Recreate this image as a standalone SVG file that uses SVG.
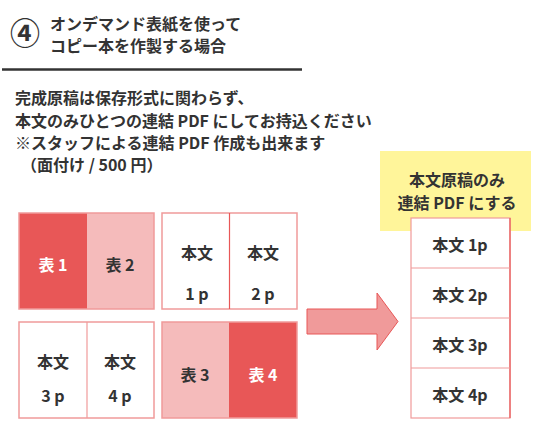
<svg xmlns="http://www.w3.org/2000/svg" width="535" height="430" viewBox="0 0 535 430">
<style>
text{font-family:"Noto Sans CJK JP","Noto Sans",sans-serif;font-weight:bold;fill:#333}
.t{font-size:16px}
.b{font-size:16px}
.c{text-anchor:middle;font-size:16px}
.w{fill:#fff}
.red{fill:#E85757}
.pink{fill:#F5BBBB}
.bd{fill:none;stroke:#F09A9A;stroke-width:1.5}
.dv{stroke:#E85757;stroke-width:1.2}
.dvp{stroke:#F09A9A;stroke-width:1.2}
</style>
<rect width="535" height="430" fill="#fff"/>
<g id="title">
<text x="25" y="44" style="font-size:30px;text-anchor:middle">④</text>
<text class="t" x="50" y="30">オンデマンド表紙を使って</text>
<text class="t" x="50" y="52">コピー本を作製する場合</text>
<line x1="2" y1="69.5" x2="302" y2="69.5" stroke="#333" stroke-width="2.5"/>
</g>
<g id="notes">
<text class="b" x="15" y="104">完成原稿は保存形式に関わらず、</text>
<text class="b" x="15" y="127">本文のみひとつの連結 PDF にしてお持込ください</text>
<text class="b" x="15" y="149">※スタッフによる連結 PDF 作成も出来ます</text>
<text class="b" x="21" y="171">（面付け / 500 円）</text>
</g>
<g id="cover12">
<rect class="red" x="19" y="213" width="68" height="96"/>
<rect class="pink" x="87" y="213" width="67" height="96"/>
<rect class="bd" x="19" y="213" width="135" height="96"/>
<text class="c w" x="53" y="271">表 1</text>
<text class="c" x="120" y="271">表 2</text>
</g>
<g id="body12">
<rect x="162" y="213" width="135" height="96" fill="#fff"/>
<rect class="bd" x="162" y="213" width="135" height="96"/>
<line class="dv" x1="229.5" y1="213" x2="229.5" y2="309"/>
<text class="c" x="197" y="259">本文</text>
<text class="c" x="263" y="259">本文</text>
<text class="c" x="197" y="300">1 p</text>
<text class="c" x="263" y="300">2 p</text>
</g>
<g id="body34">
<rect x="19" y="322" width="135" height="96" fill="#fff"/>
<rect class="bd" x="19" y="322" width="135" height="96"/>
<line class="dvp" x1="87" y1="322" x2="87" y2="418"/>
<text class="c" x="53" y="368">本文</text>
<text class="c" x="120" y="368">本文</text>
<text class="c" x="53" y="402">3 p</text>
<text class="c" x="120" y="402">4 p</text>
</g>
<g id="cover34">
<rect class="pink" x="162" y="322" width="67" height="96"/>
<rect class="red" x="229" y="322" width="68" height="96"/>
<rect class="bd" x="162" y="322" width="135" height="96"/>
<text class="c" x="195" y="381">表 3</text>
<text class="c w" x="263" y="381">表 4</text>
</g>
<g id="connectors">
<path d="M307,309 H377 V293 L398,321.5 L377,350 V334 H307 Z" fill="#F09A9A" stroke="#E85757" stroke-width="1"/>
</g>
<g id="label">
<rect x="380" y="151" width="151" height="80" fill="#FFF59A"/>
<text class="c" x="457" y="186">本文原稿のみ</text>
<text class="c" x="457" y="209">連結 PDF にする</text>
</g>
<g id="pdf">
<rect x="411" y="218" width="99" height="200" fill="#fff" stroke="#F09A9A" stroke-width="1.2"/>
<line x1="510" y1="218" x2="510" y2="418" stroke="#E85757" stroke-width="1.2"/>
<line class="dvp" x1="411" y1="268" x2="510" y2="268"/>
<line class="dvp" x1="411" y1="318" x2="510" y2="318"/>
<line class="dvp" x1="411" y1="368" x2="510" y2="368"/>
<text class="c" x="460" y="251">本文 1p</text>
<text class="c" x="460" y="301">本文 2p</text>
<text class="c" x="460" y="351">本文 3p</text>
<text class="c" x="460" y="401">本文 4p</text>
</g>
</svg>
